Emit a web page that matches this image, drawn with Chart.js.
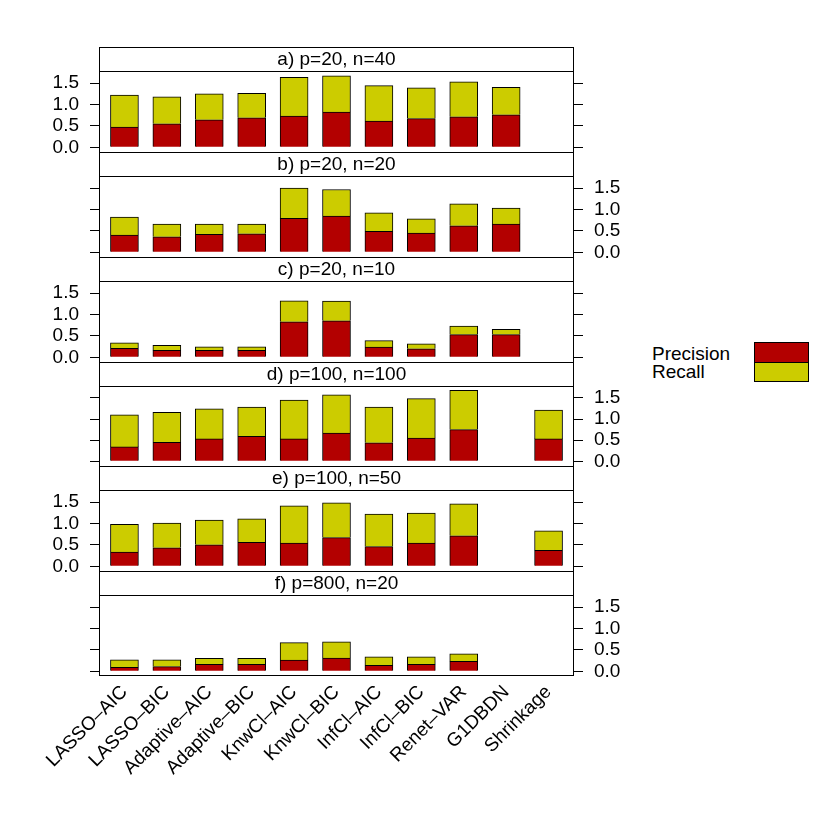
<!DOCTYPE html>
<html>
<head>
<meta charset="utf-8">
<script src="https://cdn.jsdelivr.net/npm/chart.js@4.4.1/dist/chart.umd.min.js"></script>
<style>
  body { margin: 0; background: #fff; }
  #page { position: relative; width: 830px; height: 830px; overflow: hidden;
          font-family: "Liberation Sans", Arial, sans-serif; }
  .panel { position: absolute; left: 0; width: 640px; }
  .key-text { position: absolute; left: 652px; font-size: 19px; line-height: 19px; color: #000; }
  .key-box { position: absolute; left: 754px; width: 53px; border: 1px solid #000; }
</style>
</head>
<body>
<div id="page">
  <div class="key-text" style="top:344px">Precision</div>
  <div class="key-text" style="top:362px">Recall</div>
  <div class="key-box" style="top:342px;height:19px;background:#b30000"></div>
  <div class="key-box" style="top:362px;height:18px;background:#cccc00"></div>
</div>

<script>
// ---- data ----
const methods = ["LASSO–AIC", "LASSO–BIC", "Adaptive–AIC", "Adaptive–BIC", "KnwCl–AIC",
                 "KnwCl–BIC", "InfCl–AIC", "InfCl–BIC", "Renet–VAR", "G1DBDN", "Shrinkage"];
const panelTitles = ["a) p=20, n=40", "b) p=20, n=20", "c) p=20, n=10",
                     "d) p=100, n=100", "e) p=100, n=50", "f) p=800, n=20"];
const yTicks = [0, 0.5, 1, 1.5];

const precA = [0.47, 0.55, 0.64, 0.69, 0.73, 0.82, 0.61, 0.67, 0.71, 0.76, null];
const recA  = [0.75, 0.63, 0.61, 0.57, 0.90, 0.85, 0.83, 0.72, 0.82, 0.64, null];
const precB = [0.40, 0.36, 0.42, 0.43, 0.79, 0.845, 0.49, 0.45, 0.62, 0.66, null];
const recB  = [0.42, 0.30, 0.24, 0.23, 0.71, 0.62, 0.43, 0.33, 0.51, 0.37, null];
const precC = [0.21, 0.16, 0.16, 0.16, 0.83, 0.85, 0.24, 0.20, 0.53, 0.53, null];
const recC  = [0.13, 0.12, 0.085, 0.085, 0.49, 0.46, 0.15, 0.115, 0.20, 0.12, null];
const precD = [0.34, 0.45, 0.53, 0.59, 0.53, 0.67, 0.44, 0.55, 0.75, null, 0.53];
const recD  = [0.76, 0.71, 0.71, 0.69, 0.92, 0.90, 0.84, 0.93, 0.93, null, 0.68];
const precE = [0.33, 0.43, 0.50, 0.56, 0.54, 0.67, 0.46, 0.54, 0.71, null, 0.37];
const recE  = [0.65, 0.58, 0.58, 0.55, 0.87, 0.81, 0.76, 0.70, 0.75, null, 0.46];
const precF = [0.09, 0.11, 0.16, 0.16, 0.26, 0.31, 0.14, 0.16, 0.23, null, null];
const recF  = [0.18, 0.16, 0.14, 0.14, 0.41, 0.38, 0.20, 0.18, 0.18, null, null];

const precision = [precA, precB, precC, precD, precE, precF];
const recall = [recA, recB, recC, recD, recE, recF];

// ---- look ----
const RED = "#b30000";
const YELLOW = "#cccc00";
const FONT = '"Liberation Sans", Arial, sans-serif';
Chart.defaults.font.family = FONT;
Chart.defaults.font.size = 19;
Chart.defaults.color = "#000";

const PAGE = document.getElementById("page");
const STRIP_H = 24;
const EXTRA = 14;   // room under a panel so the 0.0 label is not cut
const FRAME_L = 99, FRAME_R = 574, CANVAS_W = 640;
const tops = [47, 152, 257, 362, 466, 571, 676];

// strip on top of each panel + frame round the plot
const stripPlugin = {
    id: "strip",
    afterDraw(chart, args, opts) {
        const ctx = chart.ctx;
        const a = chart.chartArea;
        const l = a.left + 0.5, r = a.right - 0.5;
        ctx.save();
        ctx.strokeStyle = "#000";
        ctx.lineWidth = 1;
        ctx.beginPath();
        ctx.moveTo(l, 0.5); ctx.lineTo(r, 0.5);
        ctx.moveTo(l, a.top + 0.5); ctx.lineTo(r, a.top + 0.5);
        ctx.moveTo(l, 0); ctx.lineTo(l, a.bottom);
        ctx.moveTo(r, 0); ctx.lineTo(r, a.bottom);
        if (opts.last) { ctx.moveTo(l, a.bottom - 0.5); ctx.lineTo(r, a.bottom - 0.5); }
        ctx.stroke();
        ctx.fillStyle = "#000";
        ctx.font = "19px " + FONT;
        ctx.textAlign = "center";
        ctx.textBaseline = "middle";
        ctx.fillText(opts.title, (a.left + a.right) / 2, a.top / 2 + 1);
        ctx.restore();
    }
};

function yAxis(side, showLabels) {
    return {
        position: side,
        stacked: true,
        min: -0.11,
        max: 1.78,
        afterBuildTicks: s => { s.ticks = yTicks.map(v => ({ value: v })); },
        afterFit: s => {
            s.width = side === "left" ? FRAME_L : CANVAS_W - FRAME_R;
            // no extra room above/below the plot for the tick labels
            s.paddingTop = 0;
            s.paddingBottom = 0;
        },
        grid: { drawOnChartArea: false, tickLength: 9, color: "#000", tickColor: "#000" },
        border: { display: false },
        ticks: {
            padding: 11,
            color: showLabels ? "#000" : "rgba(0,0,0,0)",
            callback: v => v.toFixed(1)
        }
    };
}

function makePanel(i) {
    const last = i === 5;
    const wrap = document.createElement("div");
    wrap.className = "panel";
    wrap.style.top = tops[i] + "px";
    wrap.style.height = (tops[i + 1] - tops[i] + (last ? 150 : EXTRA)) + "px";
    const canvas = document.createElement("canvas");
    wrap.appendChild(canvas);
    PAGE.appendChild(wrap);

    const xs = methods.map((m, k) => k + 1);

    new Chart(canvas, {
        type: "bar",
        data: {
            datasets: [
                {
                    label: "Precision",
                    data: xs.map((x, k) => ({ x: x, y: precision[i][k] })),
                    backgroundColor: RED,
                    borderColor: "#000",
                    borderWidth: 1,
                    barThickness: 28
                },
                {
                    label: "Recall",
                    data: xs.map((x, k) => ({ x: x, y: recall[i][k] })),
                    backgroundColor: YELLOW,
                    borderColor: "#000",
                    borderWidth: 1,
                    barThickness: 28
                }
            ]
        },
        options: {
            responsive: true,
            maintainAspectRatio: false,
            animation: false,
            layout: { padding: { top: STRIP_H, bottom: last ? 0 : EXTRA }, autoPadding: false },
            plugins: {
                legend: { display: false },
                tooltip: { enabled: false },
                strip: { title: panelTitles[i], last: last }
            },
            scales: {
                x: {
                    type: "linear",
                    stacked: true,
                    offset: false,
                    min: 0.4,
                    max: 11.6,
                    display: last,
                    afterBuildTicks: s => { s.ticks = xs.map(v => ({ value: v })); },
                    afterFit: s => {
                        s.height = last ? 150 : 0;
                        s.paddingLeft = 0;
                        s.paddingRight = 0;
                    },
                    grid: { display: false, drawTicks: false },
                    border: { display: false },
                    ticks: {
                        autoSkip: false,
                        minRotation: 45,
                        maxRotation: 45,
                        padding: 5,
                        callback: v => methods[v - 1]
                    }
                },
                y: yAxis("left", i % 2 === 0),
                y2: yAxis("right", i % 2 === 1)
            }
        },
        plugins: [stripPlugin]
    });
}

for (let i = 0; i < 6; i++) makePanel(i);
</script>
</body>
</html>
